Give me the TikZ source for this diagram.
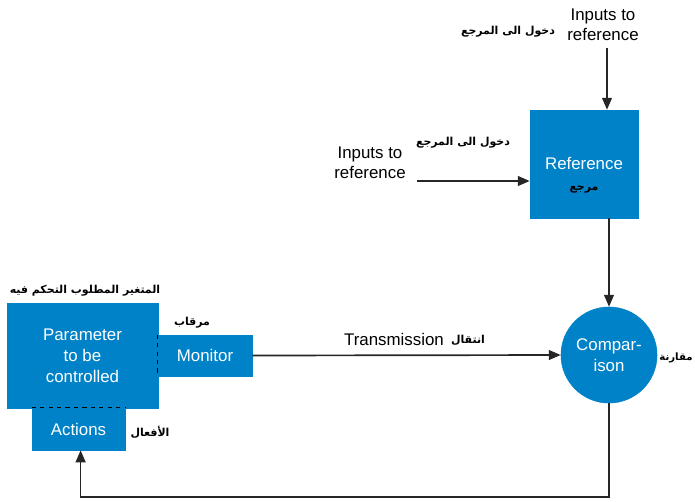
\documentclass[tikz,border=0pt]{standalone}
\usepackage{fontspec}
\setmainfont{Liberation Sans}
\newfontfamily\arabicfont[Script=Arabic]{DejaVu Sans}
\TeXXeTstate=1
\usepackage{tikz}
\usetikzlibrary{arrows.meta,positioning}

\definecolor{blockblue}{RGB}{0,130,200}
\newcommand{\ar}[1]{{\arabicfont\bfseries\beginR #1\endR}}

\begin{document}
\begin{tikzpicture}[
  x=0.025cm, y=-0.025cm,
  block/.style={fill=blockblue, draw=blockblue, inner sep=0pt, align=center,
                text=white, font=\fontsize{12}{15}\selectfont},
  plain/.style={align=center, font=\fontsize{12}{14.5}\selectfont},
  arlabel/.style={font=\fontsize{7.8}{9}\selectfont, inner sep=1pt},
  arr/.style={-{Triangle[length=8.5pt,width=7pt]}, line width=1.2pt, black!85},
]
\useasboundingbox (0,0) rectangle (695,501);

% reference block and its two inputs
\node[block, minimum width=2.7cm, minimum height=2.7cm] (reference) at (584,164) {};
\node[white, font=\fontsize{12}{15}\selectfont] (reftext) at (584,163) {Reference};
\node[arlabel] (refar) at (584,190) {\ar{مرجع}};

\node[plain] (inputtop) at (603,25) {Inputs to\\reference};
\node[arlabel] (inputtopar) at (508,32) {\ar{دخول الى المرجع}};
\node[plain] (inputleft) at (370,163) {Inputs to\\reference};
\node[arlabel] (inputleftar) at (463,143) {\ar{دخول الى المرجع}};

\coordinate (topin) at (607,48);
\coordinate (leftin) at (417,181);
\draw[arr] (topin) -- (topin |- reference.north);
\draw[arr] (leftin) -- (leftin -| reference.west);

% comparison
\node[block, circle, minimum size=2.4cm] (comparison) at (609,355) {Compar-\\ison};
\node[arlabel, font=\fontsize{7.2}{9}\selectfont] (comparisonar) at (676,358) {\ar{مقارنة}};
\draw[arr] (reference.south -| comparison) -- (comparison.north);

% controlled parameter with monitor and actions
\node[block, minimum width=3.775cm, minimum height=2.625cm] (param) at (82.5,356)
  {Parameter\\to be\\controlled};
\node[block, minimum width=2.35cm, minimum height=1.025cm] (monitor) at (205,355.5) {Monitor};
\node[block, minimum width=2.325cm, minimum height=1.05cm] (actions) at (78.5,429) {Actions};
\draw[dashed, thin] (monitor.north west) -- (monitor.south west);
\draw[dashed, thin] (actions.north west) -- (actions.north east);

\node[arlabel] (paramar) at (85,291) {\ar{المتغير المطلوب التحكم فيه}};
\node[arlabel] (monitorar) at (192,323) {\ar{مرقاب}};
\node[arlabel] (actionsar) at (150,432) {\ar{الأفعال}};

% transmission and feedback
\draw[arr] (monitor.east) -- (comparison.west);
\node[plain] (transmission) at (394,339) {Transmission};
\node[arlabel] (transmissionar) at (468,340) {\ar{انتقال}};

\coordinate (corner) at (609,497);
\draw[arr] (comparison.south) -- (corner) -| ([xshift=1.5]actions.south);
\end{tikzpicture}
\end{document}
